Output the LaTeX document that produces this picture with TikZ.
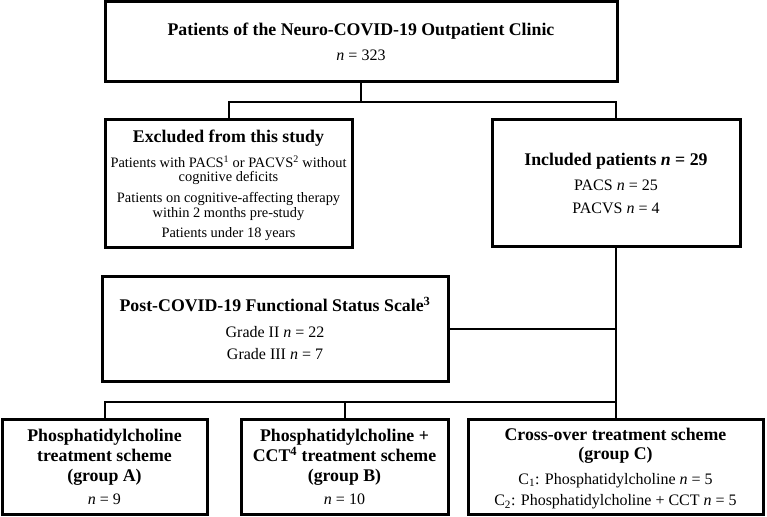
\documentclass[tikz,border=0pt]{standalone}
\usepackage{fontspec}
\setmainfont{Liberation Serif}
\newcommand\rmsize{\fontsize{16}{0}\selectfont\lineskiplimit=-100pt\lineskip=0pt}
\newcommand\smsize{\fontsize{14.4}{0}\selectfont\lineskiplimit=-100pt\lineskip=0pt}
\newcommand\boxtitle[1]{{\fontsize{17.8}{0}\selectfont\bfseries #1}}
\tikzset{
  box/.style={draw, line width=3pt, inner sep=0pt, align=center, font=\rmsize},
  conn/.style={line width=2pt},
}
\begin{document}
\begin{tikzpicture}[x=1pt, y=-1pt]
\useasboundingbox (0,0) rectangle (767,516);

\node[box, minimum width=512pt, minimum height=80pt] (top) at (361,42)
  {\boxtitle{Patients of the Neuro-COVID-19 Outpatient Clinic}\\[25.5pt]
   \textit{n} = 323};

\node[box, font=\smsize, minimum width=247pt, minimum height=128pt] (excl) at (228.5,183)
  {\rule{0pt}{16.5pt}\boxtitle{Excluded from this study}\\[25pt]
   Patients with PACS\textsuperscript{1} or PACVS\textsuperscript{2} without\\[14.3pt]
   cognitive deficits\\[21.3pt]
   Patients on cognitive-affecting therapy\\[14.3pt]
   within 2 months pre-study\\[20pt]
   Patients under 18 years};

\node[box, minimum width=248pt, minimum height=127pt] (incl) at (616,182.5)
  {\rule{0pt}{14pt}\boxtitle{Included patients \textit{n} = 29}\\[25.5pt]
   PACS \textit{n} = 25\\[22.3pt]
   PACVS \textit{n} = 4};

\node[box, minimum width=346pt, minimum height=105pt] (post) at (275,328.5)
  {\boxtitle{Post-COVID-19 Functional Status Scale\textsuperscript{3}}\\[26pt]
   Grade II \textit{n} = 22\\[22pt]
   Grade III \textit{n} = 7};

\node[box, minimum width=205pt, minimum height=95pt] (grpA) at (104.5,467)
  {\boxtitle{Phosphatidylcholine}\\[20pt]
   \boxtitle{treatment scheme}\\[20pt]
   \boxtitle{(group A)}\\[23.5pt]
   \textit{n} = 9};

\node[box, minimum width=207pt, minimum height=95pt] (grpB) at (344.5,467)
  {\boxtitle{Phosphatidylcholine +}\\[20pt]
   \boxtitle{CCT\textsuperscript{4} treatment scheme}\\[20pt]
   \boxtitle{(group B)}\\[23.5pt]
   \textit{n} = 10};

\node[box, minimum width=295pt, minimum height=95pt] (grpC) at (615.5,467)
  {\rule{0pt}{16pt}\boxtitle{Cross-over treatment scheme}\\[18.5pt]
   \boxtitle{(group C)}\\[25pt]
   C\textsubscript{1}: Phosphatidylcholine \textit{n} = 5\\[21.7pt]
   C\textsubscript{2}: Phosphatidylcholine + CCT \textit{n} = 5};

\coordinate (j1) at (361,102);
\coordinate (j2) at (616,402);

\draw[conn] (top.south) -- (j1);
\draw[conn] (excl.north) -- (excl.north |- j1) -| (incl.north);
\draw[conn] (incl.south) -- (j2);
\draw[conn] (post.east) -- (post.east -| incl.south);
\draw[conn] (grpA.north) -- (grpA.north |- j2) -| (grpC.north);
\draw[conn] (grpB.north) -- (grpB.north |- j2);
\end{tikzpicture}
\end{document}
